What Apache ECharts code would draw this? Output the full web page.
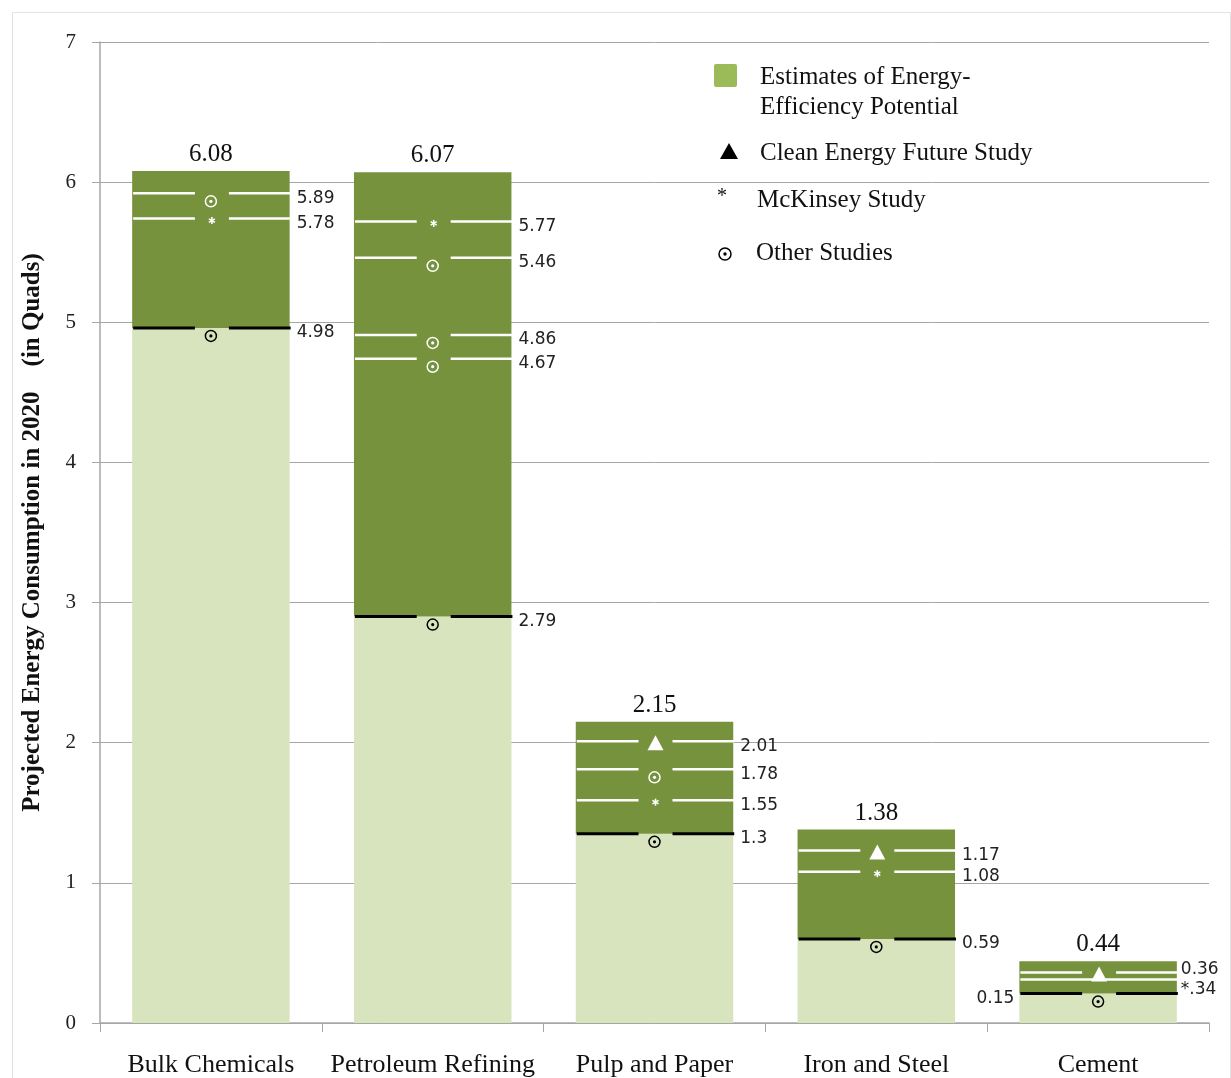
<!DOCTYPE html>
<html>
<head>
<meta charset="utf-8">
<script src="https://cdn.jsdelivr.net/npm/echarts@6/dist/echarts.min.js"></script>
<style>
  html, body { margin: 0; padding: 0; background: #fff; }
  #chart { width: 1231px; height: 1078px; }
</style>
</head>
<body>
<div id="chart"></div>
<script>
// categories and bar data
const categories = ['Bulk Chemicals', 'Petroleum Refining', 'Pulp and Paper', 'Iron and Steel', 'Cement']
const totals = [6.08, 6.07, 2.15, 1.38, 0.44]
const totalLabels = ['6.08', '6.07', '2.15', '1.38', '0.44']
// lowest estimate (top of the light part), as drawn
const baseVals = [4.96, 2.90, 1.35, 0.60, 0.21]
const baseLabels = ['4.98', '2.79', '1.3', '0.59', '0.15']

// Clean Energy Future study
const cefCats = [2, 3, 4]
const cefVals = [2.01, 1.23, 0.36]
const cefLabels = ['2.01', '1.17', '0.36']

// McKinsey study
const mckCats = [0, 1, 2, 3, 4]
const mckVals = [5.74, 5.72, 1.59, 1.08, 0.31]
const mckLabels = ['5.78', '5.77', '1.55', '1.08', '*.34']

// other studies
const othCats = [0, 1, 1, 1, 2]
const othVals = [5.92, 5.46, 4.91, 4.74, 1.81]
const othLabels = ['5.89', '5.46', '4.86', '4.67', '1.78']

const yTicks = [0, 1, 2, 3, 4, 5, 6, 7]

const DARK = '#76923c'
const LIGHT = '#d7e4bd'
const SERIF = '"Liberation Serif", "DejaVu Serif", serif'
const SANS = '"DejaVu Sans", sans-serif'

// flat list of estimate marks for the custom series
const marks = []
cefCats.forEach((c, i) => marks.push({ value: [c, cefVals[i]], kind: 'cef', label: cefLabels[i] }))
mckCats.forEach((c, i) => marks.push({ value: [c, mckVals[i]], kind: 'mck', label: mckLabels[i] }))
othCats.forEach((c, i) => marks.push({ value: [c, othVals[i]], kind: 'oth', label: othLabels[i] }))
baseVals.forEach((v, i) => marks.push({ value: [i, v], kind: 'base', label: baseLabels[i] }))

const renderMark = (params, api) => {
  const m = marks[params.dataIndex]
  const cat = api.value(0)
  const pt = api.coord([cat, api.value(1)])
  const bw = api.size([1, 0])[0] * 0.71
  const cx = pt[0] + 1
  const y = pt[1]
  const left = cx - bw / 2
  const right = cx + bw / 2
  const isBase = m.kind === 'base'
  const col = isBase ? '#000' : '#fff'
  const lw = isBase ? 3 : 2.5
  const noMarker = m.label.charAt(0) === '*'
  const gap = 17
  const children = []

  if (noMarker) {
    children.push({ type: 'line', shape: { x1: left, y1: y, x2: right, y2: y }, style: { stroke: col, lineWidth: lw } })
  } else {
    children.push({ type: 'line', shape: { x1: left, y1: y, x2: cx - gap, y2: y }, style: { stroke: col, lineWidth: lw } })
    children.push({ type: 'line', shape: { x1: cx + gap, y1: y, x2: right, y2: y }, style: { stroke: col, lineWidth: lw } })
  }

  if (m.kind === 'oth' || m.kind === 'base') {
    children.push({ type: 'circle', shape: { cx: cx - 1, cy: y + 8, r: 5.5 }, style: { fill: 'none', stroke: col, lineWidth: 1.5 } })
    children.push({ type: 'circle', shape: { cx: cx - 1, cy: y + 8, r: 1.6 }, style: { fill: col } })
  } else if (m.kind === 'cef') {
    children.push({ type: 'polygon', shape: { points: [[cx, y - 6], [cx - 8, y + 9], [cx + 8, y + 9]] }, style: { fill: '#fff' } })
  } else if (m.kind === 'mck' && !noMarker) {
    const sy = y + 2
    for (let a = 0; a < 3; a++) {
      const ang = Math.PI / 2 + a * Math.PI / 3
      const dx = Math.cos(ang) * 3.5
      const dy = Math.sin(ang) * 3.5
      children.push({ type: 'line', shape: { x1: cx - dx, y1: sy - dy, x2: cx + dx, y2: sy + dy }, style: { stroke: '#fff', lineWidth: 1.6 } })
    }
  }

  // value label beside the bar (cement base goes on the left)
  const lastCat = cat === categories.length - 1
  const onLeft = isBase && lastCat
  let dy = 5
  if (noMarker) dy = 10
  else if (lastCat && m.kind === 'cef') dy = -3
  children.push({
    type: 'text',
    x: onLeft ? left - 6 : right + (lastCat ? 3 : 6),
    y: y + dy,
    style: {
      text: m.label,
      fill: '#222',
      font: '17px ' + SANS,
      align: onLeft ? 'right' : 'left',
      verticalAlign: 'middle'
    }
  })
  return { type: 'group', children }
}

const chart = echarts.init(document.getElementById('chart'))

const legendX = 714
const option = {
  backgroundColor: '#fff',
  animation: false,
  grid: { left: 100, right: 22, top: 42, bottom: 55 },
  xAxis: {
    type: 'category',
    data: categories,
    axisLine: { lineStyle: { color: '#a6a6a6', width: 1.5 } },
    axisTick: { show: true, interval: 0, length: 9, lineStyle: { color: '#a6a6a6' } },
    axisLabel: { interval: 0, fontFamily: SERIF, fontSize: 26, color: '#111', margin: 29 }
  },
  yAxis: {
    type: 'value',
    min: yTicks[0],
    max: yTicks[yTicks.length - 1],
    interval: 1,
    name: 'Projected Energy Consumption in 2020    (in Quads)',
    nameLocation: 'middle',
    nameGap: 55,
    nameTextStyle: { fontFamily: SERIF, fontWeight: 'bold', fontSize: 25, color: '#111' },
    axisLine: { show: true, lineStyle: { color: '#a6a6a6', width: 1.5 } },
    axisTick: { show: true, length: 8, lineStyle: { color: '#a6a6a6' } },
    axisLabel: { fontFamily: SERIF, fontSize: 21, color: '#222', margin: 24 },
    splitLine: { lineStyle: { color: '#a6a6a6', width: 1 } }
  },
  series: [
    {
      name: 'Lowest estimate',
      type: 'bar',
      stack: 'total',
      barWidth: '71%',
      data: baseVals,
      itemStyle: { color: LIGHT }
    },
    {
      name: 'Estimates of Energy-Efficiency Potential',
      type: 'bar',
      stack: 'total',
      barWidth: '71%',
      data: totals.map((t, i) => +(t - baseVals[i]).toFixed(3)),
      itemStyle: { color: DARK },
      label: {
        show: true,
        position: 'top',
        distance: 4,
        formatter: (p) => totalLabels[p.dataIndex],
        fontFamily: SERIF,
        fontSize: 25,
        color: '#111'
      }
    },
    {
      name: 'Studies',
      type: 'custom',
      renderItem: renderMark,
      data: marks.map((m) => m.value),
      z: 5
    }
  ],
  graphic: [
    { type: 'rect', left: 10, top: 10, shape: { width: 1218, height: 1066 }, style: { fill: 'none', stroke: '#e2e2e2', lineWidth: 1 }, silent: true },
    { type: 'rect', x: legendX, y: 64, shape: { width: 23, height: 23, r: 2 }, style: { fill: '#9bbb59' } },
    { type: 'text', x: 760, y: 77, style: { text: 'Estimates of Energy-', font: '25px ' + SERIF, fill: '#111', verticalAlign: 'middle' } },
    { type: 'text', x: 760, y: 107, style: { text: 'Efficiency Potential', font: '25px ' + SERIF, fill: '#111', verticalAlign: 'middle' } },
    { type: 'polygon', shape: { points: [[729, 143], [720, 159], [738, 159]] }, style: { fill: '#000' } },
    { type: 'text', x: 760, y: 153, style: { text: 'Clean Energy Future Study', font: '25px ' + SERIF, fill: '#111', verticalAlign: 'middle' } },
    { type: 'text', x: 717, y: 197, style: { text: '*', font: '20px ' + SERIF, fill: '#111', verticalAlign: 'middle' } },
    { type: 'text', x: 757, y: 200, style: { text: 'McKinsey Study', font: '25px ' + SERIF, fill: '#111', verticalAlign: 'middle' } },
    { type: 'circle', shape: { cx: 725, cy: 254, r: 6 }, style: { fill: 'none', stroke: '#000', lineWidth: 1.5 } },
    { type: 'circle', shape: { cx: 725, cy: 254, r: 1.7 }, style: { fill: '#000' } },
    { type: 'text', x: 756, y: 253, style: { text: 'Other Studies', font: '25px ' + SERIF, fill: '#111', verticalAlign: 'middle' } }
  ]
}

chart.setOption(option)

window.addEventListener('resize', () => {
  chart.resize()
})
</script>
</body>
</html>
